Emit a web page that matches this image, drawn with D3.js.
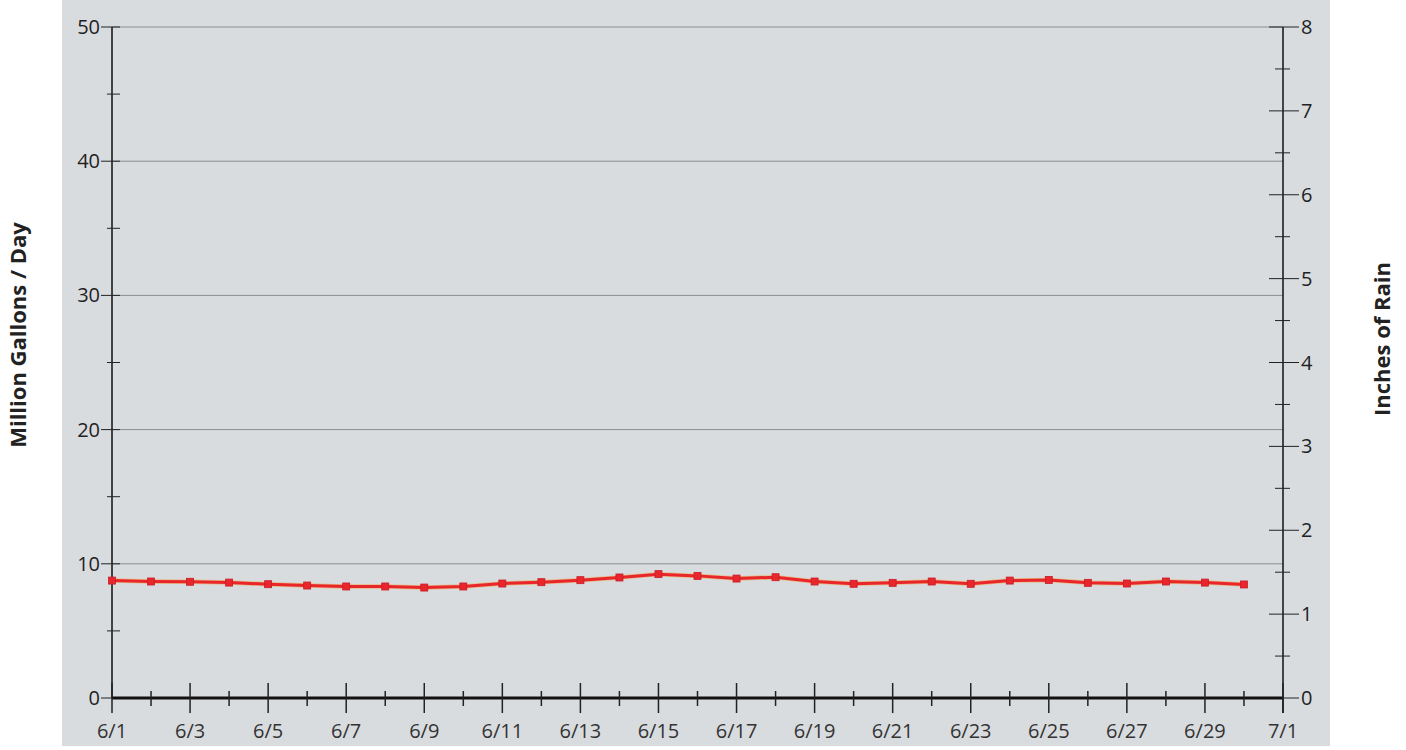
<!DOCTYPE html>
<html><head><meta charset="utf-8">
<script src="https://cdn.jsdelivr.net/npm/d3@7"></script>
<style>body{margin:0;background:#fff;}svg{display:block;font-family:"Open Sans","Noto Sans","Liberation Sans",sans-serif;}</style>
</head><body>
<svg id="c" width="1406" height="750"></svg>
<script>
const days = d3.range(1, 31);
const dateLabels = ["6/1","6/3","6/5","6/7","6/9","6/11","6/13","6/15","6/17","6/19","6/21","6/23","6/25","6/27","6/29","7/1"];
const flow = [8.75,8.68,8.66,8.60,8.48,8.38,8.31,8.31,8.23,8.31,8.53,8.63,8.78,8.98,9.23,9.10,8.90,9.00,8.68,8.51,8.58,8.68,8.51,8.75,8.80,8.58,8.53,8.68,8.60,8.46];
const leftTicks = [0,10,20,30,40,50];
const rightTicks = [0,1,2,3,4,5,6,7,8];

const svg = d3.select("#c");
const L = 112, R = 1283, T = 27, B = 698;
svg.append("rect").attr("x",62).attr("y",0).attr("width",1268).attr("height",746).attr("fill","#d9dcdf");

const x = d3.scaleLinear().domain([1,31]).range([L,R]);
const y = d3.scaleLinear().domain([0,50]).range([B,T]);
const y2 = d3.scaleLinear().domain([0,8]).range([B,T]);

// gridlines
svg.append("g").selectAll("line").data(leftTicks.filter(d=>d>0)).join("line")
  .attr("x1",L).attr("x2",R).attr("y1",d=>y(d)).attr("y2",d=>y(d))
  .attr("stroke","#8a8d90").attr("stroke-width",1);

// left axis
const gl = svg.append("g");
gl.append("line").attr("x1",L).attr("x2",L).attr("y1",T).attr("y2",B).attr("stroke","#111").attr("stroke-width",1.5);
gl.selectAll(".maj").data(leftTicks).join("line").attr("class","maj").attr("x1",L-11).attr("x2",L+8).attr("y1",d=>y(d)).attr("y2",d=>y(d)).attr("stroke","#222").attr("stroke-width",1);
gl.selectAll(".min").data(d3.range(5,50,10)).join("line").attr("class","min").attr("x1",L-5).attr("x2",L+8).attr("y1",d=>y(d)).attr("y2",d=>y(d)).attr("stroke","#222").attr("stroke-width",1);
gl.selectAll("text").data(leftTicks).join("text").attr("x",L-12).attr("y",d=>y(d)).attr("dy","0.35em")
  .attr("text-anchor","end").attr("font-size",20).attr("fill","#222").text(d=>d);

// right axis
const gr = svg.append("g");
gr.append("line").attr("x1",R).attr("x2",R).attr("y1",T).attr("y2",B+15).attr("stroke","#111").attr("stroke-width",1.5);
gr.selectAll(".maj").data(rightTicks).join("line").attr("class","maj").attr("x1",R-14).attr("x2",R+16).attr("y1",d=>y2(d)).attr("y2",d=>y2(d)).attr("stroke","#222").attr("stroke-width",1);
gr.selectAll(".min").data(d3.range(0.5,8,1)).join("line").attr("class","min").attr("x1",R-8).attr("x2",R+7).attr("y1",d=>y2(d)).attr("y2",d=>y2(d)).attr("stroke","#222").attr("stroke-width",1);
gr.selectAll("text").data(rightTicks).join("text").attr("x",R+18).attr("y",d=>y2(d)).attr("dy","0.35em")
  .attr("text-anchor","start").attr("font-size",20).attr("fill","#222").text(d=>d);

// bottom axis
const gb = svg.append("g");
gb.append("line").attr("x1",L).attr("x2",R).attr("y1",B).attr("y2",B).attr("stroke","#111").attr("stroke-width",3);
const allDays = d3.range(1,32);
gb.selectAll(".t").data(allDays).join("line")
  .attr("x1",d=>x(d)).attr("x2",d=>x(d))
  .attr("y1",d=>(d%2===1)?B-15:B-7).attr("y2",d=>(d%2===1)?B+15:B+8)
  .attr("stroke","#222").attr("stroke-width",1.5);
gb.selectAll("text").data(dateLabels).join("text")
  .attr("x",(d,i)=>x(1+2*i)).attr("y",738).attr("text-anchor","middle")
  .attr("font-size",20).attr("fill","#333").text(d=>d);

// series
const line = d3.line().x((d,i)=>x(days[i])).y(d=>y(d));
svg.append("path").datum(flow).attr("d",line).attr("fill","none").attr("stroke","#f0a040").attr("stroke-width",4.5).attr("opacity",0.6);
svg.append("path").datum(flow).attr("d",line).attr("fill","none").attr("stroke","#e8262c").attr("stroke-width",3);
svg.append("g").selectAll("rect").data(flow).join("rect")
  .attr("x",(d,i)=>x(days[i])-3.5).attr("y",d=>y(d)-3.5).attr("width",7).attr("height",7)
  .attr("fill","#e8262c").attr("stroke","#c81c28").attr("stroke-width",0.8);

// titles
svg.append("text").attr("transform","translate(26,335) rotate(-90)").attr("text-anchor","middle")
  .attr("font-size",22).attr("font-weight","bold").attr("fill","#222").text("Million Gallons / Day");
svg.append("text").attr("transform","translate(1390,339) rotate(-90)").attr("text-anchor","middle")
  .attr("font-size",22).attr("font-weight","bold").attr("fill","#222").text("Inches of Rain");
</script>
</body></html>
